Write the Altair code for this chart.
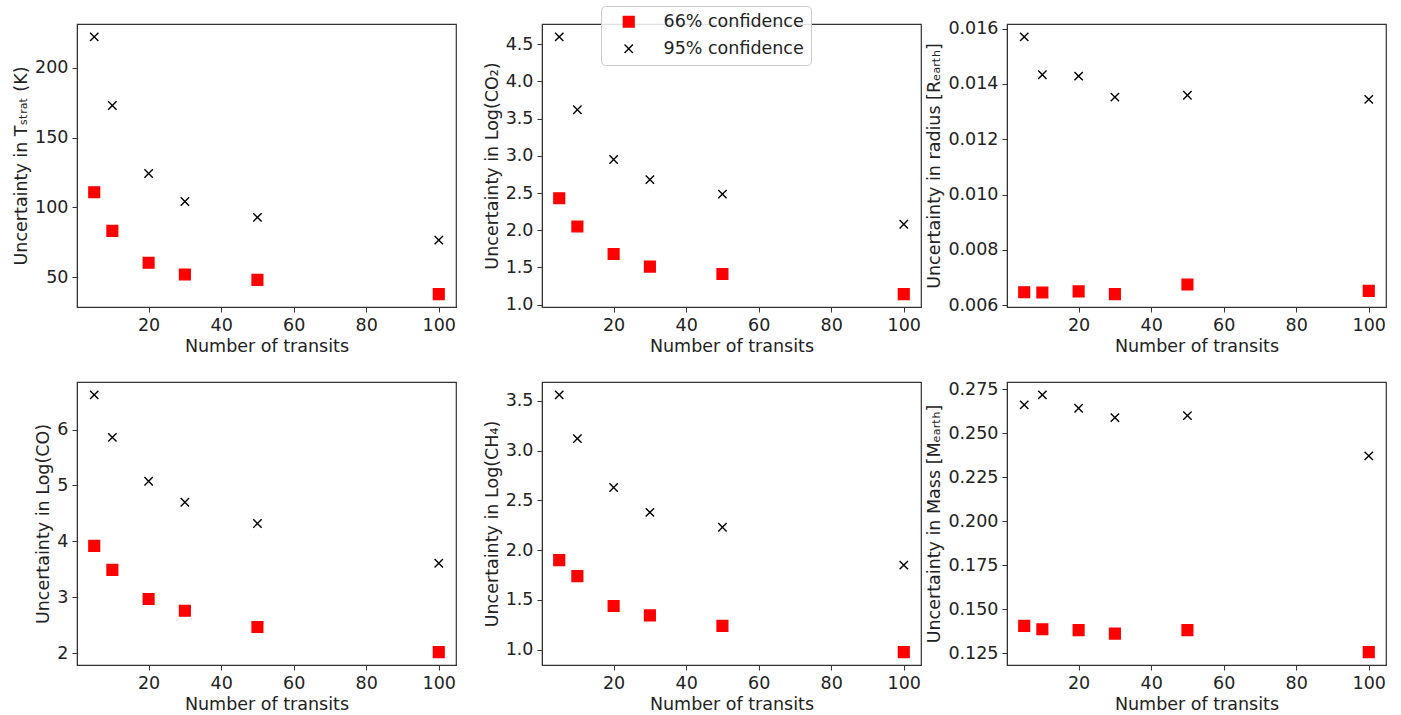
import altair as alt
import pandas as pd

transits = [5, 10, 20, 30, 50, 100]
conf_labels = ["66% confidence", "95% confidence"]

tstrat_66 = [110.9, 83.3, 60.5, 52.1, 48.3, 38.1]
tstrat_95 = [221.9, 172.9, 124.3, 104.3, 92.9, 76.7]
co2_66 = [2.43, 2.05, 1.68, 1.51, 1.41, 1.14]
co2_95 = [4.60, 3.62, 2.95, 2.68, 2.485, 2.08]
radius_66 = [0.00647, 0.00646, 0.00650, 0.00640, 0.00675, 0.00652]
radius_95 = [0.0157, 0.01433, 0.01428, 0.01352, 0.01359, 0.01344]
co_66 = [3.92, 3.49, 2.97, 2.76, 2.47, 2.02]
co_95 = [6.62, 5.86, 5.075, 4.70, 4.32, 3.61]
ch4_66 = [1.90, 1.74, 1.44, 1.345, 1.24, 0.976]
ch4_95 = [3.56, 3.12, 2.63, 2.38, 2.23, 1.85]
mass_66 = [0.1405, 0.1386, 0.1381, 0.1361, 0.1381, 0.1256]
mass_95 = [0.2661, 0.2718, 0.2642, 0.2589, 0.2600, 0.2371]

x_ticks = [20, 40, 60, 80, 100]
ticks_tstrat = [50, 100, 150, 200]
ticks_co2 = [1.0, 1.5, 2.0, 2.5, 3.0, 3.5, 4.0, 4.5]
ticks_radius = [0.006, 0.008, 0.010, 0.012, 0.014, 0.016]
ticks_co = [2, 3, 4, 5, 6]
ticks_ch4 = [1.0, 1.5, 2.0, 2.5, 3.0, 3.5]
ticks_mass = [0.125, 0.150, 0.175, 0.200, 0.225, 0.250, 0.275]

XPATH = "M-1,-1L1,1M-1,1L1,-1"
FONT = "DejaVu Sans"


def padded(vals):
    lo, hi = min(vals), max(vals)
    m = 0.05 * (hi - lo)
    return [lo - m, hi + m]


def panel(title, v66, v95, ticks, fmt, show_legend=False):
    df = pd.DataFrame({
        "n": transits + transits,
        "v": v66 + v95,
        "conf": [conf_labels[0]] * len(v66) + [conf_labels[1]] * len(v95),
    })
    leg = alt.Legend(title=None) if show_legend else None
    enc = dict(
        x=alt.X("n:Q", scale=alt.Scale(domain=padded(transits), nice=False, zero=False),
                axis=alt.Axis(values=x_ticks, title="Number of transits", format="d")),
        y=alt.Y("v:Q", scale=alt.Scale(domain=padded(v66 + v95), nice=False, zero=False),
                axis=alt.Axis(values=ticks, format=fmt, title=title)),
        shape=alt.Shape("conf:N", scale=alt.Scale(domain=conf_labels, range=["square", XPATH]), legend=leg),
        stroke=alt.Stroke("conf:N", scale=alt.Scale(domain=conf_labels, range=["red", "black"]), legend=leg),
        fill=alt.Fill("conf:N", scale=alt.Scale(domain=conf_labels, range=["red", "transparent"]), legend=leg),
        size=alt.Size("conf:N", scale=alt.Scale(domain=conf_labels, range=[115, 70]), legend=leg),
    )
    return alt.Chart(df).mark_point(filled=False, strokeWidth=1.4, opacity=1).encode(**enc).properties(
        width=379, height=283)


p1 = panel("Uncertainty in Tₛₜᵣₐₜ (K)", tstrat_66, tstrat_95, ticks_tstrat, "d")
p2 = panel("Uncertainty in Log(CO₂)", co2_66, co2_95, ticks_co2, ".1f", show_legend=True)
p3 = panel("Uncertainty in radius [Rₑₐᵣₜₕ]", radius_66, radius_95, ticks_radius, ".3f")
p4 = panel("Uncertainty in Log(CO)", co_66, co_95, ticks_co, "d")
p5 = panel("Uncertainty in Log(CH₄)", ch4_66, ch4_95, ticks_ch4, ".1f")
p6 = panel("Uncertainty in Mass [Mₑₐᵣₜₕ]", mass_66, mass_95, ticks_mass, ".3f")

chart = alt.concat(
    p1, p2, p3, p4, p5, p6, columns=3, spacing={"row": 75, "column": 86}, bounds="flush"
).resolve_scale(
    x="independent", y="independent", shape="independent", stroke="independent",
    fill="independent", size="independent"
).properties(
    padding={"left": 11, "top": 4, "right": 2, "bottom": 0},
    background="white",
).configure_view(
    stroke="#333", strokeWidth=1.2
).configure_axis(
    grid=False, labelFont=FONT, titleFont=FONT, labelFontSize=17.5, titleFontSize=17.5,
    titleFontWeight="normal", labelColor="#222", titleColor="#222",
    domainColor="#333", tickColor="#333", tickSize=5, labelPadding=4, titlePadding=4,
    labelFlush=False, labelOverlap=False
).configure_legend(
    orient="none", legendX=59, legendY=-18,
    labelFont=FONT, labelFontSize=17.5, labelColor="#222",
    fillColor="rgba(255,255,255,0.85)", strokeColor="#cccccc", cornerRadius=4,
    padding=7, rowPadding=8, symbolOffset=12, labelOffset=26, symbolStrokeWidth=1.4
)

chart.save("out.html", embed_options={"renderer": "svg", "actions": False})
